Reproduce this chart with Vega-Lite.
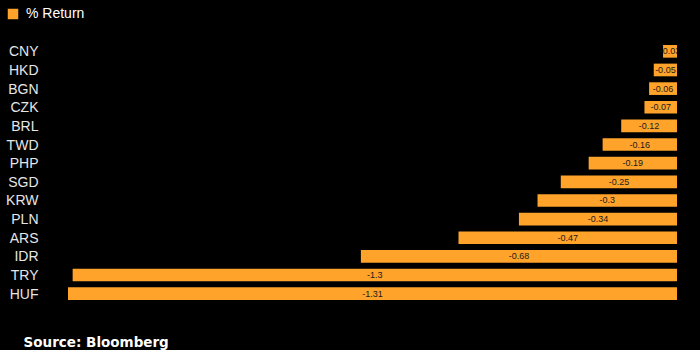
{
  "$schema": "https://vega.github.io/schema/vega-lite/v6.json",
  "autosize": "none",
  "width": 609,
  "height": 261,
  "padding": {"left": 68, "top": 42, "right": 23, "bottom": 47},
  "background": "#000000",
  "config": {"view": {"stroke": null}, "font": "Liberation Sans", "locale": {"number": {"decimal": ".", "thousands": ",", "grouping": [3], "currency": ["$", ""], "minus": "-"}}},
  "title": {"text": "Source:  Bloomberg", "orient": "bottom", "anchor": "start", "dx": 18, "offset": 33, "font": "DejaVu Sans", "fontWeight": "bold", "fontSize": 13.5, "color": "#ffffff"},
  "data": {"values": [
    {"currency": "CNY", "value": -0.03},
    {"currency": "HKD", "value": -0.05},
    {"currency": "BGN", "value": -0.06},
    {"currency": "CZK", "value": -0.07},
    {"currency": "BRL", "value": -0.12},
    {"currency": "TWD", "value": -0.16},
    {"currency": "PHP", "value": -0.19},
    {"currency": "SGD", "value": -0.25},
    {"currency": "KRW", "value": -0.3},
    {"currency": "PLN", "value": -0.34},
    {"currency": "ARS", "value": -0.47},
    {"currency": "IDR", "value": -0.68},
    {"currency": "TRY", "value": -1.3},
    {"currency": "HUF", "value": -1.31}
  ]},
  "encoding": {
    "y": {"field": "currency", "type": "nominal", "sort": null,
      "scale": {"paddingInner": 0.32, "paddingOuter": 0.16},
      "axis": {"title": null, "ticks": false, "domain": false, "labelPadding": 30, "labelFontSize": 14, "labelColor": "#e6e6e6", "labelFont": "Liberation Sans", "labelOffset": 1}}
  },
  "layer": [
    {
      "mark": {"type": "bar"},
      "encoding": {
        "x": {"field": "value", "type": "quantitative", "scale": {"domain": [-1.31, 0], "nice": false, "zero": false}, "axis": null},
        "color": {"datum": "% Return", "type": "nominal", "scale": {"range": ["#ffa32a"]},
          "legend": {"title": null, "orient": "none", "legendX": -62, "legendY": -35, "symbolType": "square", "symbolSize": 110, "symbolStrokeWidth": 0, "labelFontSize": 14, "labelColor": "#ffffff", "labelFont": "Liberation Sans", "labelOffset": 6}}
      }
    },
    {
      "transform": [{"calculate": "datum.value / 2", "as": "mid"}],
      "mark": {"type": "text", "fontSize": 9, "color": "#1a1a1a", "clip": true, "font": "Liberation Sans"},
      "encoding": {
        "x": {"field": "mid", "type": "quantitative"},
        "text": {"field": "value", "type": "quantitative"}
      }
    }
  ]
}
